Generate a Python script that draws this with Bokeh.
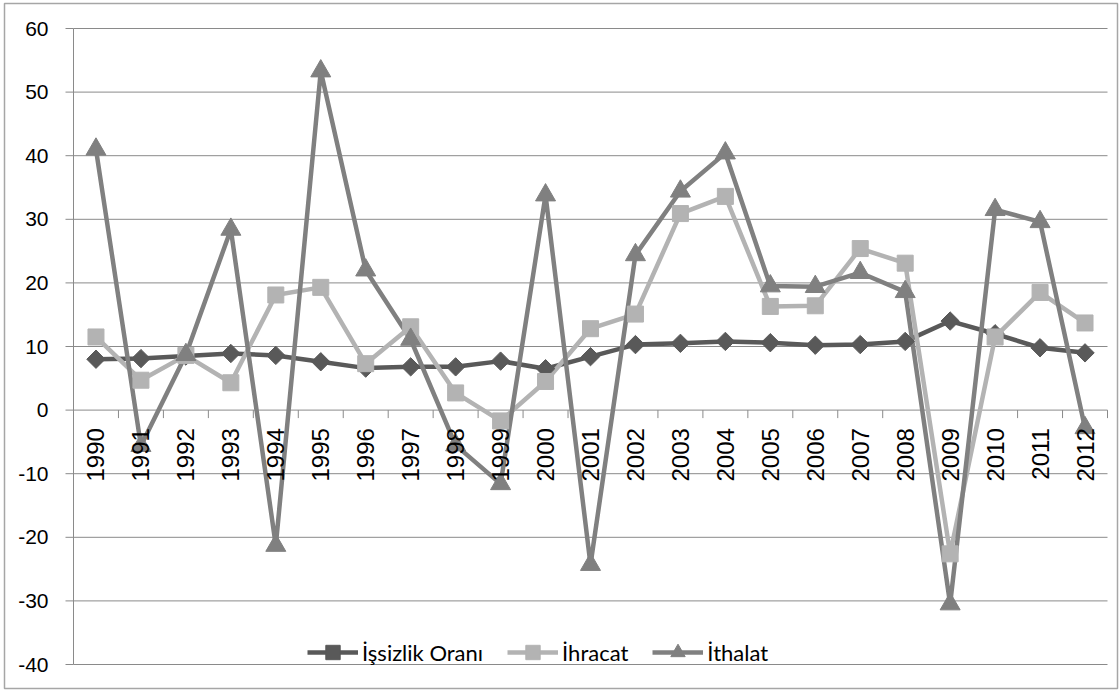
import numpy as np
from bokeh.plotting import figure
from bokeh.models import Range1d, Legend, LegendItem
from bokeh.core.properties import value
from bokeh.embed import file_html
from bokeh.resources import INLINE

years = ["1990", "1991", "1992", "1993", "1994", "1995", "1996", "1997", "1998", "1999",
         "2000", "2001", "2002", "2003", "2004", "2005", "2006", "2007", "2008", "2009",
         "2010", "2011", "2012"]
unemployment = [8.0, 8.1, 8.5, 8.9, 8.6, 7.6, 6.6, 6.8, 6.8, 7.7, 6.5, 8.4, 10.3, 10.5,
                10.8, 10.6, 10.2, 10.3, 10.8, 14.0, 12.0, 9.8, 9.0]
exports = [11.5, 4.7, 8.6, 4.3, 18.1, 19.3, 7.3, 13.1, 2.7, -1.7, 4.5, 12.8, 15.1, 30.9,
           33.6, 16.3, 16.4, 25.4, 23.1, -22.6, 11.5, 18.5, 13.7]
imports = [41.0, -5.6, 8.7, 28.4, -21.3, 53.3, 22.0, 11.1, -5.5, -11.6, 33.8, -24.3, 24.4,
           34.4, 40.4, 19.5, 19.4, 21.6, 18.6, -30.5, 31.5, 29.6, -2.8]
series_names = ["İşsizlik Oranı", "İhracat", "İthalat"]
y_ticks = [-40, -30, -20, -10, 0, 10, 20, 30, 40, 50, 60]

c_unemp = "#595959"
c_exp = "#b3b3b3"
c_imp = "#808080"
grid_c = "#8a8a8a"

# ---- layout (pixels): outer chart box and inner plot area ----
box_l, box_t, box_r, box_b = 4, 3, 1117, 688
area_l, area_t, area_r, area_b = 73, 28, 1107, 664

n = len(years)
idx = np.arange(n)
y_min, y_max = y_ticks[0], y_ticks[-1]
sx = (area_r - area_l) / n               # px per category
sy = (area_b - area_t) / (y_max - y_min)  # px per unit
x0_, x1_ = -0.5, n - 0.5
x_start = x0_ - (area_l - box_l) / sx
x_end = x1_ + (box_r - area_r) / sx
y_end = y_max + (area_t - box_t) / sy
y_start = y_min - (box_b - area_b) / sy

p = figure(frame_width=box_r - box_l, frame_height=box_b - box_t,
           min_border_left=box_l, min_border_top=box_t,
           min_border_right=1120 - box_r, min_border_bottom=691 - box_b,
           x_range=Range1d(x_start, x_end), y_range=Range1d(y_start, y_end),
           x_axis_location=None, y_axis_location=None,
           output_backend="svg", toolbar_location=None)
p.outline_line_color = "#a6a6a6"
p.outline_line_width = 1.5
p.background_fill_color = "white"
p.border_fill_color = "white"
p.grid.visible = False

yt = np.array(y_ticks, dtype=float)
# horizontal gridlines
p.segment(x0=np.full(len(yt), x0_), y0=yt, x1=np.full(len(yt), x1_), y1=yt,
          line_color=grid_c, line_width=1)
# value axis line + ticks
p.segment(x0=[x0_], y0=[y_min], x1=[x0_], y1=[y_max], line_color=grid_c, line_width=1)
p.segment(x0=np.full(len(yt), x0_ - 8 / sx), y0=yt, x1=np.full(len(yt), x0_), y1=yt,
          line_color=grid_c, line_width=1)
# value labels
p.text(x=np.full(len(yt), x0_ - 25 / sx), y=yt, text=[str(t) for t in y_ticks],
       text_align="right", text_baseline="middle",
       text_font=value("Liberation Sans"), text_font_size="21px", text_color="black")

# category tick marks along the zero line
bounds = np.arange(n + 1) - 0.5
p.segment(x0=bounds, y0=np.zeros_like(bounds), x1=bounds, y1=np.zeros_like(bounds) - 8 / sy,
          line_color=grid_c, line_width=1)

# lines
lw = 4.5
l1 = p.line(idx, unemployment, line_color=c_unemp, line_width=lw, line_join="round")
l2 = p.line(idx, exports, line_color=c_exp, line_width=lw, line_join="round")
l3 = p.line(idx, imports, line_color=c_imp, line_width=lw, line_join="round")

# markers
m1 = p.scatter(idx, unemployment, marker="square", angle=np.pi / 4, size=13,
               fill_color=c_unemp, line_color=c_unemp)
m2 = p.scatter(idx, exports, marker="square", size=16, fill_color=c_exp, line_color=c_exp)
m3 = p.scatter(idx, imports, marker="triangle", size=20, fill_color=c_imp, line_color=c_imp)

# category labels just below the zero line
p.text(x=idx, y=np.zeros(n) - 18 / sy, text=years, angle=np.pi / 2,
       text_align="right", text_baseline="middle",
       text_font=value("Liberation Sans"), text_font_size="24px", text_color="black")

legend = Legend(items=[LegendItem(label=series_names[0], renderers=[l1, m1]),
                       LegendItem(label=series_names[1], renderers=[l2, m2]),
                       LegendItem(label=series_names[2], renderers=[l3, m3])],
                orientation="horizontal", location=(307 - box_l, 18),
                glyph_width=51, glyph_height=36, label_standoff=4, spacing=24,
                padding=0, margin=0, border_line_color=None, background_fill_alpha=0,
                label_text_font="Lato", label_text_font_size="22px", label_text_color="black")
p.add_layout(legend, "center")

open("out.html", "w").write(file_html(p, INLINE))
